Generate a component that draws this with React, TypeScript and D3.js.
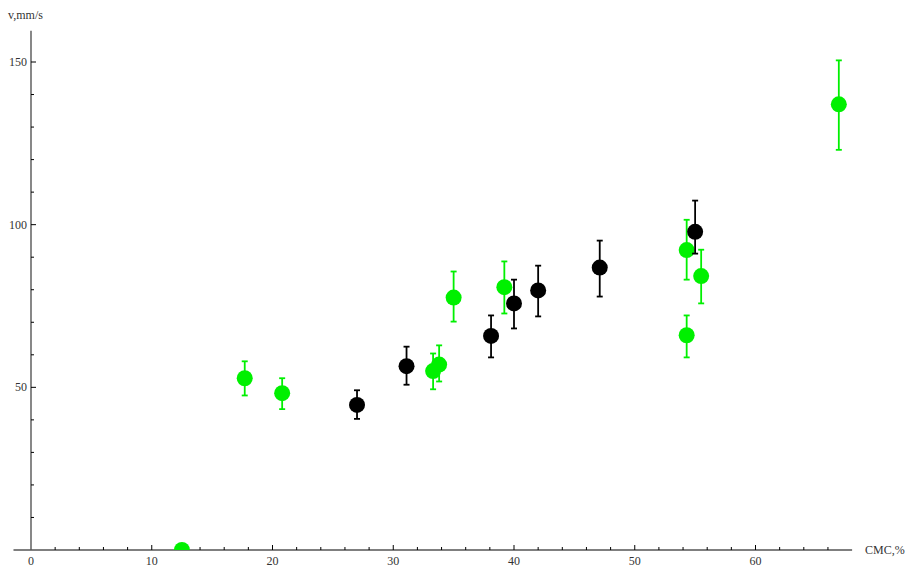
import { useEffect, useRef } from "react";
import * as d3 from "d3";

// green series: CMC %, velocity, error bar low/high
const greenX = [12.5, 17.7, 20.8, 33.3, 33.8, 35.0, 39.2, 54.3, 55.5, 54.3, 66.9];
const greenY = [0, 52.8, 48.2, 55.0, 57.0, 77.6, 80.8, 92.2, 84.2, 66.0, 137.0];
const greenLo = [0, 47.5, 43.3, 49.4, 51.8, 70.2, 72.7, 83.1, 75.8, 59.2, 123.0];
const greenHi = [0, 58.0, 52.8, 60.4, 62.9, 85.6, 88.7, 101.5, 92.3, 72.1, 150.5];

// black series
const blackX = [27.0, 31.1, 38.1, 40.0, 42.0, 47.1, 55.0];
const blackY = [44.6, 56.5, 65.8, 75.8, 79.8, 86.8, 97.8];
const blackLo = [40.3, 50.8, 59.2, 68.1, 71.8, 77.9, 91.1];
const blackHi = [49.1, 62.5, 72.1, 83.1, 87.4, 95.1, 107.4];

const xMajor = [0, 10, 20, 30, 40, 50, 60];
const yMajor = [50, 100, 150];

export default function App() {
  const ref = useRef<SVGSVGElement>(null);

  useEffect(() => {
    const svg = d3.select(ref.current);
    svg.selectAll("*").remove();

    const width = 905;
    const height = 567;
    svg.attr("width", width).attr("height", height);

    const x = d3.scaleLinear().domain([0, 60]).range([31, 755.5]);
    const y = d3.scaleLinear().domain([0, 150]).range([550, 62]);

    const font = "'Liberation Serif', 'DejaVu Serif', serif";
    const fs = 12;

    svg.append("defs").append("clipPath").attr("id", "plot")
      .append("rect")
      .attr("x", 0).attr("y", 0)
      .attr("width", width).attr("height", y(0));

    // axes lines
    svg.append("line")
      .attr("x1", x(-1.45)).attr("x2", x(68))
      .attr("y1", y(0)).attr("y2", y(0))
      .attr("stroke", "#555").attr("stroke-width", 1.4);
    svg.append("line")
      .attr("x1", x(0)).attr("x2", x(0))
      .attr("y1", y(0)).attr("y2", y(159.6))
      .attr("stroke", "#555").attr("stroke-width", 1.4);

    // x ticks
    const xTicks = d3.range(2, 68, 2);
    svg.append("g").selectAll("line")
      .data(xTicks)
      .enter().append("line")
      .attr("x1", d => x(d)).attr("x2", d => x(d))
      .attr("y1", y(0))
      .attr("y2", d => y(0) - (d % 10 === 0 ? 5 : 3))
      .attr("stroke", "#000").attr("stroke-width", 1);

    svg.append("g").selectAll("text")
      .data(xMajor)
      .enter().append("text")
      .attr("x", d => x(d)).attr("y", 565)
      .attr("text-anchor", "middle")
      .attr("font-family", font).attr("font-size", fs)
      .attr("fill", "#333")
      .text(d => d);

    // y ticks
    const yTicks = d3.range(10, 160, 10);
    svg.append("g").selectAll("line")
      .data(yTicks)
      .enter().append("line")
      .attr("x1", x(0)).attr("x2", d => x(0) + (d % 50 === 0 ? 5 : 3))
      .attr("y1", d => y(d)).attr("y2", d => y(d))
      .attr("stroke", "#000").attr("stroke-width", 1);

    svg.append("g").selectAll("text")
      .data(yMajor)
      .enter().append("text")
      .attr("x", 27).attr("y", d => y(d) + 4)
      .attr("text-anchor", "end")
      .attr("font-family", font).attr("font-size", fs)
      .attr("fill", "#333")
      .text(d => d);

    svg.append("text")
      .attr("x", 8).attr("y", 19)
      .attr("font-family", font).attr("font-size", fs)
      .attr("fill", "#333")
      .text("v,mm/s");
    svg.append("text")
      .attr("x", 865).attr("y", 554)
      .attr("font-family", font).attr("font-size", fs)
      .attr("fill", "#333")
      .text("CMC,%");

    const plot = svg.append("g").attr("clip-path", "url(#plot)");

    const drawSeries = (xs: number[], ys: number[], lo: number[], hi: number[], color: string) => {
      const pts = xs.map((v, i) => ({ x: v, y: ys[i], lo: lo[i], hi: hi[i] }));
      const g = plot.append("g");
      const bars = pts.filter(p => p.hi > p.lo);
      g.selectAll(".bar").data(bars).enter().append("line")
        .attr("x1", d => x(d.x)).attr("x2", d => x(d.x))
        .attr("y1", d => y(d.lo)).attr("y2", d => y(d.hi))
        .attr("stroke", color).attr("stroke-width", 1.8);
      g.selectAll(".capHi").data(bars).enter().append("line")
        .attr("x1", d => x(d.x) - 3).attr("x2", d => x(d.x) + 3)
        .attr("y1", d => y(d.hi)).attr("y2", d => y(d.hi))
        .attr("stroke", color).attr("stroke-width", 1.8);
      g.selectAll(".capLo").data(bars).enter().append("line")
        .attr("x1", d => x(d.x) - 3).attr("x2", d => x(d.x) + 3)
        .attr("y1", d => y(d.lo)).attr("y2", d => y(d.lo))
        .attr("stroke", color).attr("stroke-width", 1.8);
      g.selectAll("circle").data(pts).enter().append("circle")
        .attr("cx", d => x(d.x)).attr("cy", d => y(d.y))
        .attr("r", 8).attr("fill", color);
    };

    drawSeries(greenX, greenY, greenLo, greenHi, "#00f000");
    drawSeries(blackX, blackY, blackLo, blackHi, "#000");
  }, []);

  return (
    <div style={{ position: "absolute", left: 0, top: 0 }}>
      <svg ref={ref}></svg>
    </div>
  );
}
